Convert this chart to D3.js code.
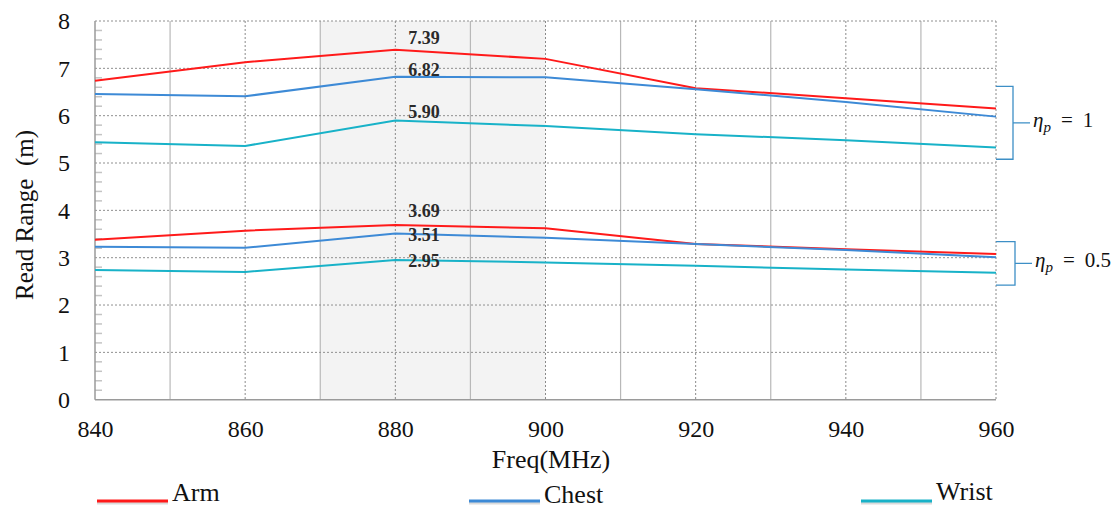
<!DOCTYPE html>
<html>
<head>
<meta charset="utf-8">
<script src="https://cdn.jsdelivr.net/npm/d3@7"></script>
<style>
  html, body { margin: 0; padding: 0; background: #fff; }
  svg { display: block; }
  svg text { font-family: "Liberation Serif", "Times New Roman", serif; }
</style>
</head>
<body>
<svg id="chart" width="1120" height="509"></svg>
<script>
// Frequency axis (MHz)
const freqs = [840, 860, 880, 900, 920, 940, 960];
const xTicks = [840, 860, 880, 900, 920, 940, 960];
const yTicks = [0, 1, 2, 3, 4, 5, 6, 7, 8];

// Read range (m), polarisation efficiency 1
const arm1   = [6.74, 7.13, 7.39, 7.20, 6.58, 6.37, 6.15];
const chest1 = [6.46, 6.41, 6.82, 6.81, 6.56, 6.29, 5.98];
const wrist1 = [5.44, 5.36, 5.90, 5.78, 5.61, 5.48, 5.33];

// Read range (m), polarisation efficiency 0.5
const arm05   = [3.38, 3.57, 3.69, 3.62, 3.29, 3.18, 3.08];
const chest05 = [3.23, 3.21, 3.51, 3.42, 3.29, 3.16, 3.01];
const wrist05 = [2.74, 2.70, 2.95, 2.90, 2.83, 2.75, 2.68];

const seriesNames = ["Arm", "Chest", "Wrist"];
const seriesColors = ["#ff1a1a", "#3d8ad6", "#18b2c8"];

// Highlighted band (MHz)
const band = [870, 900];

// Brackets grouping the two efficiency cases (range in m) and their captions
const groupRanges = [[5.08, 6.62], [2.42, 3.34]];
const groupCaptions = ["1", "0.5"];

const svg = d3.select("#chart");
const x = d3.scaleLinear().domain([840, 960]).range([95, 996]);
const y = d3.scaleLinear().domain([0, 8]).range([399.7, 21]);

// shaded band
svg.append("rect")
  .attr("x", x(band[0])).attr("y", y(8))
  .attr("width", x(band[1]) - x(band[0]))
  .attr("height", y(0) - y(8))
  .attr("fill", "#f3f3f3");

const grid = svg.append("g");
// vertical grid: solid at odd tens, dotted at the labelled frequencies
d3.range(850, 961, 10).forEach(f => {
  const dashed = (f - 840) % 20 === 0;
  grid.append("line")
    .attr("x1", x(f)).attr("x2", x(f))
    .attr("y1", y(8)).attr("y2", y(0))
    .attr("stroke", dashed ? "#8a8a8a" : "#b8b8b8")
    .attr("stroke-width", dashed ? 1 : 1.2)
    .attr("stroke-dasharray", dashed ? "2,2" : null);
});
// horizontal grid
yTicks.filter(v => v > 0).forEach(v => {
  grid.append("line")
    .attr("x1", x(840)).attr("x2", x(960))
    .attr("y1", y(v)).attr("y2", y(v))
    .attr("stroke", "#8f8f8f")
    .attr("stroke-width", 1)
    .attr("stroke-dasharray", "2,2");
});
// minor ticks on the value axis
d3.range(1, 40).filter(i => i % 5 !== 0).forEach(i => {
  const v = i * 0.2;
  grid.append("line")
    .attr("x1", x(840)).attr("x2", x(840) + 7)
    .attr("y1", y(v)).attr("y2", y(v))
    .attr("stroke", "#c4c4c4").attr("stroke-width", 1.5);
});
// axis lines
grid.append("line")
  .attr("x1", x(840)).attr("x2", x(840)).attr("y1", y(8)).attr("y2", y(0))
  .attr("stroke", "#9a9a9a").attr("stroke-width", 1.5);
grid.append("line")
  .attr("x1", x(840)).attr("x2", x(960)).attr("y1", y(0)).attr("y2", y(0))
  .attr("stroke", "#9a9a9a").attr("stroke-width", 1.5);

// axes (labels only)
const yAxis = svg.append("g")
  .attr("transform", `translate(${x(840)},0)`)
  .call(d3.axisLeft(y).tickValues(yTicks).tickFormat(d3.format("d")).tickSize(0).tickPadding(25));
const xAxis = svg.append("g")
  .attr("transform", `translate(0,${y(0)})`)
  .call(d3.axisBottom(x).tickValues(xTicks).tickFormat(d3.format("d")).tickSize(0).tickPadding(20));
[yAxis, xAxis].forEach(a => {
  a.select(".domain").remove();
  a.selectAll("text")
    .attr("font-size", 24)
    .attr("fill", "#111");
});

// axis titles
svg.append("text")
  .attr("x", 551).attr("y", 468)
  .attr("text-anchor", "middle")
  .attr("font-size", 26).attr("fill", "#111")
  .text("Freq(MHz)");
svg.append("text")
  .attr("transform", "translate(33,215) rotate(-90)")
  .attr("text-anchor", "middle")
  .attr("font-size", 25).attr("fill", "#111")
  .attr("xml:space", "preserve")
  .text("Read Range  (m)");

// series lines
const line = d3.line().x((d, i) => x(freqs[i])).y(d => y(d));
const groups = [[arm1, chest1, wrist1], [arm05, chest05, wrist05]];
groups.forEach(g => g.forEach((vals, k) => {
  svg.append("path")
    .datum(vals)
    .attr("fill", "none")
    .attr("stroke", seriesColors[k])
    .attr("stroke-width", 2)
    .attr("d", line);
}));

// peak value labels at 880 MHz
const peakIdx = freqs.indexOf(880);
const labelShift = [[-6, -1, -2], [-8, 7, 7]];
groups.forEach((g, gi) => g.forEach((vals, k) => {
  const v = vals[peakIdx];
  svg.append("text")
    .attr("x", x(880) + 13)
    .attr("y", y(v) + labelShift[gi][k])
    .attr("font-size", 18)
    .attr("fill", "#2a2a2a")
    .attr("font-weight", 600)
    .text(v.toFixed(2));
}));

// brackets with efficiency captions
const bracketColor = "#3d8fc6";
groupRanges.forEach((r, i) => {
  const top = y(r[1]), bot = y(r[0]), mid = (top + bot) / 2;
  const bx = x(960) + 17 + i * 2;
  svg.append("path")
    .attr("d", `M${x(960)},${top}H${bx}V${bot}H${x(960)}M${bx},${mid}H${bx + 17}`)
    .attr("fill", "none").attr("stroke", bracketColor).attr("stroke-width", 1.3);
  const t = svg.append("text")
    .attr("x", bx + 20).attr("y", mid + 4)
    .attr("font-size", 21).attr("fill", "#111");
  t.append("tspan").attr("font-style", "italic").text("η");
  t.append("tspan").attr("font-style", "italic").attr("font-size", 15).attr("dy", 5).text("p");
  t.append("tspan").attr("dy", -5).attr("dx", 10).text("=");
  t.append("tspan").attr("dx", 10).text(groupCaptions[i]);
});

// legend
const legendX = [97, 469, 861];
const legendTextY = [501, 503, 500];
seriesNames.forEach((name, k) => {
  const lx = legendX[k];
  svg.append("line")
    .attr("x1", lx).attr("x2", lx + 71).attr("y1", 503).attr("y2", 503)
    .attr("stroke", "#999").attr("stroke-opacity", 0.35).attr("stroke-width", 3);
  svg.append("line")
    .attr("x1", lx).attr("x2", lx + 71).attr("y1", 501).attr("y2", 501)
    .attr("stroke", seriesColors[k]).attr("stroke-width", 3);
  svg.append("text")
    .attr("x", lx + 75).attr("y", legendTextY[k])
    .attr("font-size", 26).attr("fill", "#111")
    .text(name);
});
</script>
</body>
</html>
